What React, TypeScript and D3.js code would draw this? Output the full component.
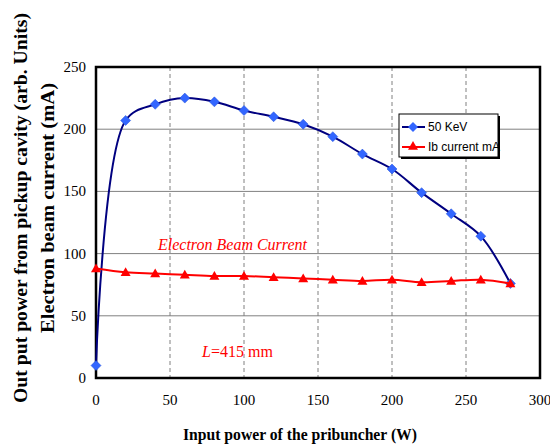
import React from "react";
import * as d3 from "d3";

const powerW = [0, 20, 40, 60, 80, 100, 120, 140, 160, 180, 200, 220, 240, 260, 280];
const output50KeV = [10, 207, 220, 225, 222, 215, 210, 204, 194, 180, 168, 149, 132, 114, 76];
const beamCurrent = [88, 85, 84, 83, 82, 82, 81, 80, 79, 78, 79, 77, 78, 79, 76];
const xTicks = [0, 50, 100, 150, 200, 250, 300];
const yTicks = [0, 50, 100, 150, 200, 250];

const W = 550, H = 444;
const left = 96, right = 540, top = 67, bottom = 378;

export default function App() {
  const x = d3.scaleLinear().domain([0, 300]).range([left, right]);
  const y = d3.scaleLinear().domain([0, 250]).range([bottom, top]);
  const line = d3.line<number>().x((_, i) => x(powerW[i])).y((v) => y(v)).curve(d3.curveCatmullRom.alpha(0.5));
  const diamond = (cx: number, cy: number, r: number) => `M${cx},${cy - r}L${cx + r},${cy}L${cx},${cy + r}L${cx - r},${cy}Z`;
  const tri = (cx: number, cy: number, r: number) => `M${cx},${cy - r}L${cx + r},${cy + r * 0.75}L${cx - r},${cy + r * 0.75}Z`;
  const serif = "'Liberation Serif', 'Times New Roman', serif";
  const sans = "'Liberation Sans', Arial, sans-serif";
  return (
    <svg width={W} height={H} style={{ position: "absolute", left: 0, top: 0, background: "#fff" }}>
      <rect x={0} y={0} width={W} height={H} fill="#fff" />
      {yTicks.filter((t) => t > 0 && t < 250).map((t) => (
        <line key={"gy" + t} x1={left} x2={right} y1={y(t)} y2={y(t)} stroke="#808080" strokeWidth={1} />
      ))}
      {xTicks.filter((t) => t > 0 && t < 300).map((t) => (
        <line key={"gx" + t} x1={x(t)} x2={x(t)} y1={top} y2={bottom} stroke="#808080" strokeWidth={1} strokeDasharray="4,3" />
      ))}
      <rect x={left} y={top} width={right - left} height={bottom - top} fill="none" stroke="#000" strokeWidth={2.5} />
      {yTicks.map((t) => (
        <text key={"ty" + t} x={86} y={y(t) + 5} textAnchor="end" fontFamily={serif} fontSize={15}>{t}</text>
      ))}
      {xTicks.map((t) => (
        <text key={"tx" + t} x={x(t)} y={405} textAnchor="middle" fontFamily={serif} fontSize={15}>{t}</text>
      ))}
      <path d={line(output50KeV) || ""} fill="none" stroke="#000080" strokeWidth={2} />
      {output50KeV.map((v, i) => (
        <path key={"d" + i} d={diamond(x(powerW[i]), y(v), 5)} fill="#3366FF" stroke="#1f4fd8" strokeWidth={0.5} />
      ))}
      <path d={line(beamCurrent) || ""} fill="none" stroke="#FF0000" strokeWidth={2} />
      {beamCurrent.map((v, i) => (
        <path key={"t" + i} d={tri(x(powerW[i]), y(v), 5)} fill="#FF0000" />
      ))}
      <text x={158} y={250} fontFamily={serif} fontStyle="italic" fontSize={16} fill="#FF0000">Electron Beam Current</text>
      <text x={202} y={357} fontFamily={serif} fontSize={16} fill="#FF0000">
        <tspan fontStyle="italic">L</tspan>=415 mm
      </text>
      <rect x={401} y={116} width={99} height={43} fill="#000" />
      <rect x={399} y={114} width={99} height={43} fill="#fff" stroke="#000" strokeWidth={1} />
      <line x1={402} x2={425} y1={127} y2={127} stroke="#000080" strokeWidth={2} />
      <path d={diamond(413, 127, 5)} fill="#3366FF" />
      <text x={428} y={131} fontFamily={sans} fontSize={12}>50 KeV</text>
      <line x1={402} x2={425} y1={147} y2={147} stroke="#FF0000" strokeWidth={2} />
      <path d={tri(413, 146, 5)} fill="#FF0000" />
      <text x={428} y={151} fontFamily={sans} fontSize={12}>Ib current mA</text>
      <text transform="translate(27,208) rotate(-90)" textAnchor="middle" fontFamily={serif} fontWeight="bold" fontSize={18.5} textLength={390} lengthAdjust="spacingAndGlyphs">Out put power from pickup cavity (arb. Units)</text>
      <text transform="translate(54,208) rotate(-90)" textAnchor="middle" fontFamily={serif} fontWeight="bold" fontSize={18.5} textLength={250} lengthAdjust="spacingAndGlyphs">Electron beam current (mA)</text>
      <text x={300} y={440} textAnchor="middle" fontFamily={serif} fontWeight="bold" fontSize={16} textLength={234} lengthAdjust="spacingAndGlyphs">Input power of the pribuncher (W)</text>
    </svg>
  );
}
